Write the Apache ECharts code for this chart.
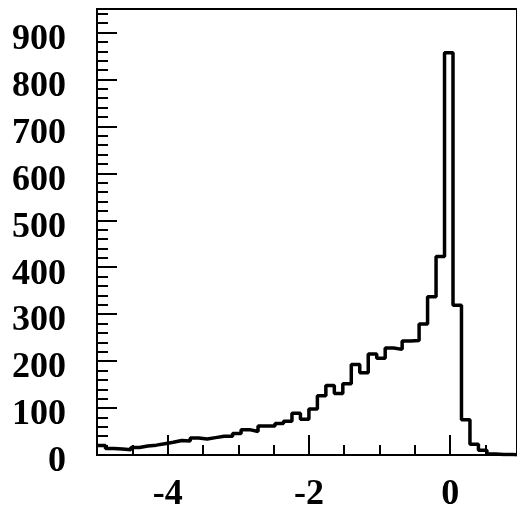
<!DOCTYPE html>
<html>
<head>
<meta charset="utf-8">
<script src="https://cdn.jsdelivr.net/npm/echarts@6/dist/echarts.min.js"></script>
<style>
  html, body { margin: 0; padding: 0; background: #fff; }
  #chart { width: 517px; height: 513px; }
</style>
</head>
<body>
<div id="chart"></div>
<script>
// histogram binning
const xMin = -5
const binWidth = 0.12
// the frame runs to x = 1 but the picture is cut a little before that
const axisMax = 0.946

// counts per bin (50 bins)
const counts = [
  20, 14, 13, 11, 16, 19, 21, 24, 27, 31,
  30, 36, 34, 37, 40, 40, 46, 54, 50, 62,
  62, 67, 72, 89, 76, 98, 126, 148, 131, 152,
  193, 175, 215, 206, 228, 225, 243, 244, 279, 337,
  423, 857, 319, 75, 23, 10, 2, 1, 1, 0
]

const xTickLabels = [-4, -2, 0]
const yTickLabels = [0, 100, 200, 300, 400, 500, 600, 700, 800, 900]

// step points: left edge of each bin + closing point at the last edge
const stepData = counts.map((c, i) => [xMin + i * binWidth, c])
stepData.push([xMin + counts.length * binWidth, counts[counts.length - 1]])

const labelFont = {
  color: '#000',
  fontFamily: 'Liberation Serif',
  fontWeight: 'bold',
  fontSize: 36
}

let myChart = echarts.init(document.getElementById('chart'))
let option = {
  backgroundColor: '#FFFFFF',
  animation: false,
  grid: {
    left: 97,
    right: 0,
    top: 9,
    bottom: 47,
    show: true,
    borderColor: '#000',
    borderWidth: 2,
    backgroundColor: 'transparent'
  },
  xAxis: [
    {
      type: 'value',
      min: xMin,
      max: axisMax,
      position: 'bottom',
      axisLine: { show: true, onZero: false, lineStyle: { color: '#000', width: 2 } },
      axisTick: {
        show: true,
        inside: true,
        length: 20,
        customValues: xTickLabels,
        lineStyle: { color: '#000', width: 2 }
      },
      axisLabel: {
        ...labelFont,
        margin: 22,
        customValues: xTickLabels
      },
      splitLine: { show: false }
    },
    {
      // minor ticks every 0.5
      type: 'value',
      min: xMin,
      max: axisMax,
      interval: 0.5,
      position: 'bottom',
      axisLine: { show: false, onZero: false },
      axisTick: { show: true, inside: true, length: 10, lineStyle: { color: '#000', width: 2 } },
      axisLabel: { show: false },
      splitLine: { show: false }
    }
  ],
  yAxis: [
    {
      type: 'value',
      min: 0,
      max: 950,
      position: 'left',
      axisLine: { show: true, onZero: false, lineStyle: { color: '#000', width: 2 } },
      axisTick: {
        show: true,
        inside: true,
        length: 20,
        customValues: yTickLabels,
        lineStyle: { color: '#000', width: 2 }
      },
      axisLabel: {
        ...labelFont,
        margin: 31,
        verticalAlign: 'top',
        lineHeight: 14,
        customValues: yTickLabels
      },
      splitLine: { show: false }
    },
    {
      // minor ticks every 20
      type: 'value',
      min: 0,
      max: 950,
      interval: 20,
      position: 'left',
      axisLine: { show: false, onZero: false },
      axisTick: { show: true, inside: true, length: 11, lineStyle: { color: '#000', width: 2 } },
      axisLabel: { show: false },
      splitLine: { show: false }
    }
  ],
  series: [
    {
      type: 'line',
      step: 'end',
      xAxisIndex: 0,
      yAxisIndex: 0,
      data: stepData,
      showSymbol: false,
      symbol: 'none',
      clip: true,
      lineStyle: { color: '#000', width: 3.5 }
    }
  ]
}
myChart.setOption(option)
</script>
</body>
</html>
